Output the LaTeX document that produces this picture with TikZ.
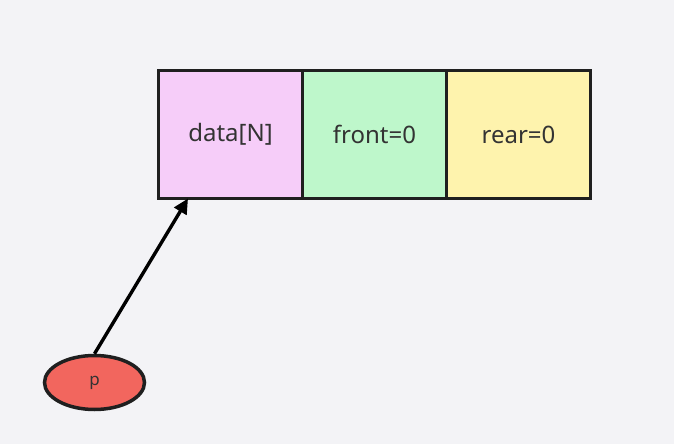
\documentclass[tikz,border=0pt]{standalone}
\usepackage{fontspec}
\setmainfont{Noto Sans}
\usetikzlibrary{positioning, arrows.meta, shapes.geometric}
\definecolor{bgray}{HTML}{F3F3F6}
\definecolor{cellpink}{HTML}{F6CDF9}
\definecolor{cellgreen}{HTML}{BEF7CB}
\definecolor{cellyellow}{HTML}{FEF3AD}
\definecolor{ptrred}{HTML}{F2665E}
\definecolor{inkgray}{HTML}{333333}
\tikzstyle{arrow} = [line width=3.4pt,-{Triangle[length=15pt,width=14pt]}]

\begin{document}
\begin{tikzpicture}[x=1pt,y=-1pt]
                    \tikzstyle{every node}=[font=\fontsize{24}{28}\selectfont, text=inkgray]
                    \tikzstyle{cell} = [rectangle, draw=black!88, line width=3.5pt, outer sep=0pt, minimum width=144pt, minimum height=128pt]
                    \tikzstyle{pointer} = [ellipse, draw=black!88, line width=3.5pt, fill=ptrred, minimum width=100pt, minimum height=54pt, inner sep=0pt, font=\fontsize{17}{20}\selectfont]

                    \fill[bgray] (0,0) rectangle (674,444);
                    \useasboundingbox (0,0) rectangle (674,444);

                    % queue cells
                    \node[cell, fill=cellpink](data) at (230.5,134.5) {data[N]};
                    \node[cell, fill=cellgreen, right=0pt of data](front) {front=0};
                    \node[cell, fill=cellyellow, right=0pt of front](rear) {rear=0};

                    % pointer
                    \node[pointer](p) at (94.5,382.5) {p};
                    \coordinate (tip) at ([xshift=29.5pt]data.south west);
                    \draw[arrow] (p.north) -- (tip);

            \end{tikzpicture}
\end{document}
